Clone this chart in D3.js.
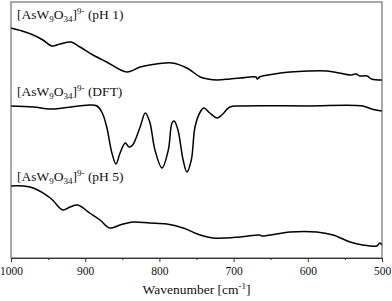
<!DOCTYPE html>
<html>
<head>
<meta charset="utf-8">
<script src="https://cdn.jsdelivr.net/npm/d3@7"></script>
<style>
  body { margin: 0; background: #fff; }
  svg { display: block; }
  text { font-family: "Liberation Serif", "Times New Roman", serif; fill: #111; }
</style>
</head>
<body>
<div id="chart"></div>
<script>
'use strict';

// wavenumber [cm-1] / relative intensity (arbitrary, offset per trace)
var ph1Wave = [1000, 985, 970, 957, 945, 934, 919, 907, 889.5, 871, 844, 826, 813, 783, 763, 745, 735, 722, 705, 691, 670, 668, 665, 645, 624, 600, 574, 558, 543, 535, 530, 520, 514, 500];
var ph1Val  = [230, 227, 223, 218, 212, 214, 216, 211, 203, 196, 186, 191, 193, 195, 190, 181, 179, 178, 179, 180, 181, 179, 181, 184, 186, 187, 187, 185, 183, 184, 182, 182, 179, 178];

var dftWave = [1000, 970, 947, 930, 894, 884, 877, 871, 864, 858.5, 853, 846, 841, 836, 826, 819, 813, 806, 796.5, 788, 783, 780, 775, 768, 763, 757, 752, 745, 740, 732, 722, 716, 705, 691, 600, 526, 514, 500];
var dftVal  = [152, 151, 149, 150, 153, 152, 145, 131, 105, 94, 105, 115, 111, 113, 131, 145, 136, 108, 90, 108, 135, 137, 128, 98, 86, 98, 131, 146, 150, 145, 140, 143, 151, 152, 152, 152, 149, 147];

var ph5Wave = [1000, 984, 970, 947, 930, 920.5, 910, 894, 880, 867, 853, 836, 813, 790, 768, 745, 728, 691, 665, 662, 624, 588, 566, 543, 526, 507, 503, 500];
var ph5Val  = [72, 72, 70, 60, 48, 51, 53, 45, 38, 30, 33, 36, 35, 34, 30, 23, 20, 21, 23, 22, 26, 26, 23, 16, 13, 12, 15, 13];

var traceLabels = [
  {name: '(pH 1)', at: 239},
  {name: '(DFT)', at: 162},
  {name: '(pH 5)', at: 77}
];

var xTicks = [1000, 900, 800, 700, 600, 500];
var xMinorTicks = [950, 850, 750, 650, 550];

var myApp = {};
myApp.w = 392;
myApp.h = 301;
myApp.margins = {top: 2, bottom: 43, left: 11, right: 10};

var svg = d3.select('#chart').append('svg')
    .attr('width', myApp.w)
    .attr('height', myApp.h);

var x = d3.scaleLinear()
    .domain([1000, 500])
    .range([myApp.margins.left, myApp.w - myApp.margins.right]);

var y = d3.scaleLinear()
    .domain([0, 256])
    .range([myApp.h - myApp.margins.bottom, myApp.margins.top]);

var line = d3.line()
    .x(function(d){ return x(d[0]); })
    .y(function(d){ return y(d[1]); })
    .curve(d3.curveCatmullRom.alpha(0.5));

function pairs(a, b){
    return a.map(function(v, i){ return [v, b[i]]; });
}

var series = [pairs(ph1Wave, ph1Val), pairs(dftWave, dftVal), pairs(ph5Wave, ph5Val)];

svg.append('g').selectAll('path')
    .data(series)
    .enter()
    .append('path')
    .attr('d', line)
    .attr('fill', 'none')
    .attr('stroke', '#000')
    .attr('stroke-width', 1.5);

// frame
svg.append('rect')
    .attr('x', x(1000))
    .attr('y', y(256))
    .attr('width', x(500) - x(1000))
    .attr('height', y(0) - y(256))
    .attr('fill', 'none')
    .attr('stroke', '#555')
    .attr('stroke-width', 1);

// bottom axis
var axis = svg.append('g')
    .attr('transform', 'translate(0,' + y(0) + ')')
    .call(d3.axisBottom(x).tickValues(xTicks).tickSize(4).tickPadding(5).tickFormat(d3.format('d')));
axis.select('.domain').attr('stroke', '#333');
axis.selectAll('.tick line').attr('stroke', '#333');
axis.selectAll('text').style('font-size', '11.5px').style('font-family', '"Liberation Serif", serif');

var minor = svg.append('g')
    .attr('transform', 'translate(0,' + y(0) + ')')
    .call(d3.axisBottom(x).tickValues(xMinorTicks).tickSize(2).tickFormat(''));
minor.select('.domain').remove();
minor.selectAll('.tick line').attr('stroke', '#333');

// axis title
var title = svg.append('text')
    .attr('x', (x(1000) + x(500)) / 2)
    .attr('y', 294)
    .attr('text-anchor', 'middle')
    .style('font-size', '13.5px');
title.append('tspan').text('Wavenumber [cm');
title.append('tspan').attr('dy', -5).style('font-size', '9px').text('-1');
title.append('tspan').attr('dy', 5).text(']');

// trace labels
var lab = svg.append('g').selectAll('text')
    .data(traceLabels)
    .enter()
    .append('text')
    .attr('x', x(1000) + 6)
    .attr('y', function(d){ return y(d.at); })
    .style('font-size', '13.5px');
lab.append('tspan').text('[AsW');
lab.append('tspan').attr('dy', 3).style('font-size', '9px').text('9');
lab.append('tspan').attr('dy', -3).text('O');
lab.append('tspan').attr('dy', 3).style('font-size', '9px').text('34');
lab.append('tspan').attr('dy', -3).text(']');
lab.append('tspan').attr('dy', -5).style('font-size', '9px').text('9-');
lab.append('tspan').attr('dy', 5).text(function(d){ return ' ' + d.name; });
</script>
</body>
</html>
